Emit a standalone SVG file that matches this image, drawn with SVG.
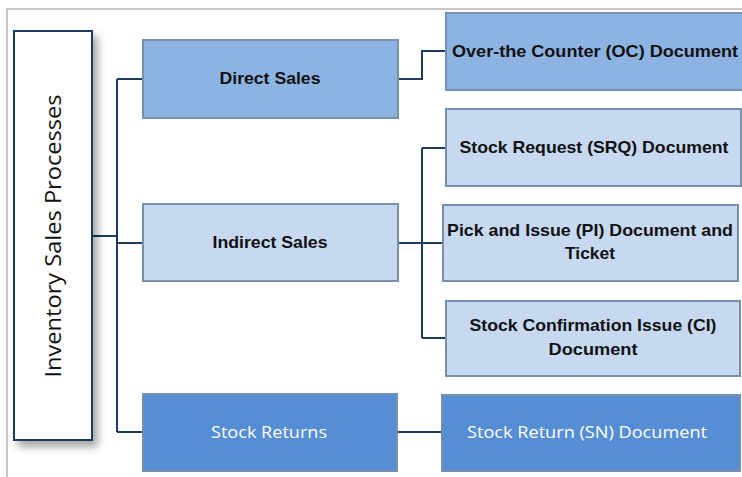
<svg xmlns="http://www.w3.org/2000/svg" width="742" height="477" viewBox="0 0 742 477">
  <defs>
    <filter id="soft" x="-20%" y="-10%" width="160%" height="130%">
      <feDropShadow dx="5" dy="6" stdDeviation="4" flood-color="#000" flood-opacity="0.35"/>
    </filter>
    <style>
      .frame { fill: none; stroke: #c8c8c8; stroke-width: 2; }
      .wire { fill: none; stroke: #1f3b64; stroke-width: 2; }
      .box { stroke: #7890ae; stroke-width: 2; }
      .mid { fill: #8db3e2; }
      .light { fill: #c6d9f1; }
      .dark { fill: #558ed5; }
      .lbl { font-family: "Liberation Sans", Arial, sans-serif; font-size: 17px; font-weight: bold; fill: #111; text-anchor: middle; }
      .wlbl { font-family: "Open Sans", "Liberation Sans", sans-serif; font-size: 16px; fill: #fff; text-anchor: middle; }
      .root { font-family: "Open Sans", "Liberation Sans", sans-serif; font-size: 22px; fill: #111; text-anchor: middle; }
    </style>
  </defs>

  <rect width="742" height="477" fill="#fff"/>
  <path class="frame" d="M7,477 V9 H742"/>

  <g id="connectors">
    <path class="wire" d="M92,236 H117 M117,79 V432 M117,79 H143 M117,243 H143 M117,432 H143"/>
    <path class="wire" d="M398,79 H422 V51 H446"/>
    <path class="wire" d="M398,243 H443 M422,148 V338 M422,148 H446 M422,338 H446"/>
    <path class="wire" d="M397,432 H442"/>
  </g>

  <g id="inventory-sales-processes">
    <rect x="14" y="31" width="78" height="409" fill="#fff" stroke="#1f3b64" stroke-width="2" filter="url(#soft)"/>
    <text class="root" transform="translate(61,236) rotate(-90)" textLength="283" lengthAdjust="spacingAndGlyphs">Inventory Sales Processes</text>
  </g>

  <g id="direct-sales">
    <rect class="box mid" x="143" y="40" width="255" height="78"/>
    <text class="lbl" x="270" y="84" textLength="101" lengthAdjust="spacingAndGlyphs">Direct Sales</text>
  </g>

  <g id="indirect-sales">
    <rect class="box light" x="143" y="204" width="255" height="77"/>
    <text class="lbl" x="270" y="248" textLength="115" lengthAdjust="spacingAndGlyphs">Indirect Sales</text>
  </g>

  <g id="stock-returns">
    <rect class="box dark" x="143" y="394" width="254" height="77"/>
    <text class="wlbl" x="269" y="438" textLength="116" lengthAdjust="spacingAndGlyphs">Stock Returns</text>
  </g>

  <g id="oc-document">
    <rect class="box mid" x="446" y="13" width="300" height="77"/>
    <text class="lbl" x="595" y="57" textLength="286" lengthAdjust="spacingAndGlyphs">Over-the Counter (OC) Document</text>
  </g>

  <g id="srq-document">
    <rect class="box light" x="446" y="109" width="295" height="77"/>
    <text class="lbl" x="594" y="153" textLength="269" lengthAdjust="spacingAndGlyphs">Stock Request (SRQ) Document</text>
  </g>

  <g id="pi-document">
    <rect class="box light" x="443" y="205" width="295" height="76"/>
    <text class="lbl" x="590" y="236" textLength="286" lengthAdjust="spacingAndGlyphs">Pick and Issue (PI) Document and</text>
    <text class="lbl" x="590" y="259" textLength="50" lengthAdjust="spacingAndGlyphs">Ticket</text>
  </g>

  <g id="ci-document">
    <rect class="box light" x="446" y="301" width="294" height="75"/>
    <text class="lbl" x="593" y="331" textLength="247" lengthAdjust="spacingAndGlyphs">Stock Confirmation Issue (CI)</text>
    <text class="lbl" x="593" y="355" textLength="89" lengthAdjust="spacingAndGlyphs">Document</text>
  </g>

  <g id="sn-document">
    <rect class="box dark" x="442" y="395" width="298" height="76"/>
    <text class="wlbl" x="587" y="438" textLength="240" lengthAdjust="spacingAndGlyphs">Stock Return (SN) Document</text>
  </g>
</svg>
